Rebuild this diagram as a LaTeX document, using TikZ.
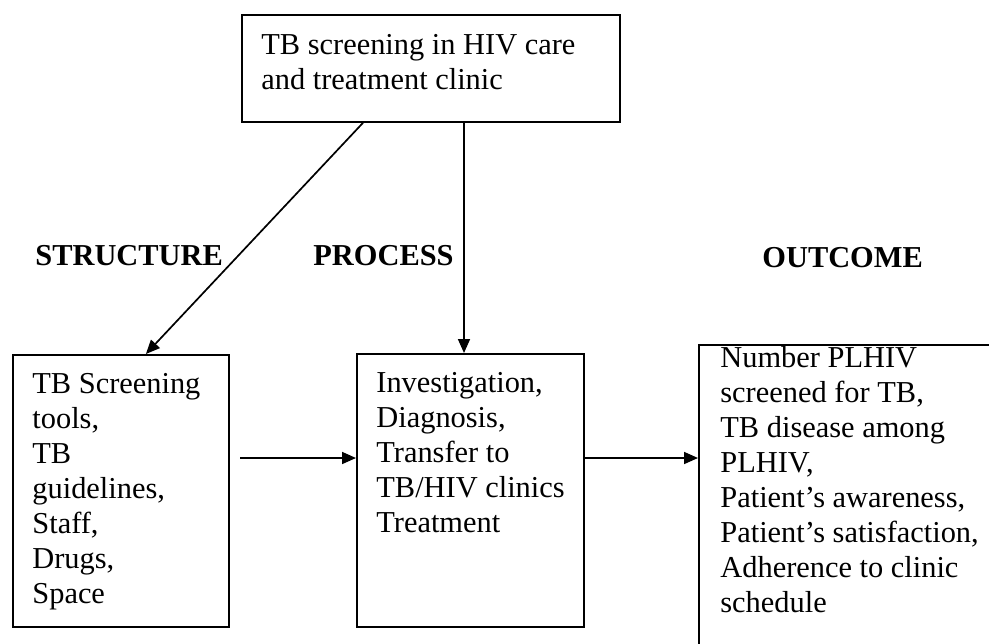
\documentclass[tikz,border=0pt]{standalone}
\usepackage{fontspec}
\setmainfont{Liberation Serif}
\usetikzlibrary{arrows.meta}
\begin{document}
\begin{tikzpicture}[x=0.5pt, y=-0.5pt,
  frame/.style={draw, line width=0.9pt, anchor=north west, inner sep=0pt},
  txt/.style={anchor=base west, align=left, inner sep=0pt, font=\fontsize{15.2}{17.5}\selectfont},
  head/.style={anchor=base west, inner sep=0pt, font=\fontsize{15.2}{17.5}\selectfont\bfseries},
  arr/.style={-{Triangle[length=7pt,width=6pt]}, line width=0.85pt}]
\useasboundingbox (0,0) rectangle (989,643);
\clip (0,0) rectangle (989,643);
% boxes (text placed by the baseline of its last line)
\node[frame, minimum width=189pt, minimum height=53.5pt] (scr) at (241,14) {};
\node[txt] (scrt) at ([xshift=10pt,yshift=-37.5pt]scr.north west) {TB screening in HIV care\\and treatment clinic};
\node[frame, minimum width=108pt, minimum height=136pt] (str) at (12,354) {};
\node[txt] (strt) at ([xshift=10pt,yshift=-124.5pt]str.north west) {TB Screening\\tools,\\TB\\guidelines,\\Staff,\\Drugs,\\Space};
\node[frame, minimum width=113.5pt, minimum height=136.5pt] (pro) at (356,353) {};
\node[txt] (prot) at ([xshift=10pt,yshift=-89.5pt]pro.north west) {Investigation,\\Diagnosis,\\Transfer to\\TB/HIV clinics\\Treatment};
\node[frame, minimum width=160pt, minimum height=160pt] (out) at (698,344) {};
\node[txt] (outt) at ([xshift=11pt,yshift=-134pt]out.north west) {Number PLHIV\\screened for TB,\\TB disease among\\PLHIV,\\Patient's awareness,\\Patient's satisfaction,\\Adherence to clinic\\schedule};
% headings
\node[head] (hs) at (35,265) {STRUCTURE};
\node[head] (hp) at (313,265) {PROCESS};
\node[head] (ho) at (762,267) {OUTCOME};
% arrows
\coordinate (v1) at ([xshift=111.5pt]scr.south west);
\coordinate (h1) at (240,458);
\draw[arr] ([xshift=61pt]scr.south west) -- ([xshift=12.5pt]str.north);
\draw[arr] (v1) -- (v1 |- pro.north);
\draw[arr] (h1) -- (h1 -| pro.west);
\draw[arr] (pro.east |- h1) -- (h1 -| out.west);
\end{tikzpicture}
\end{document}
